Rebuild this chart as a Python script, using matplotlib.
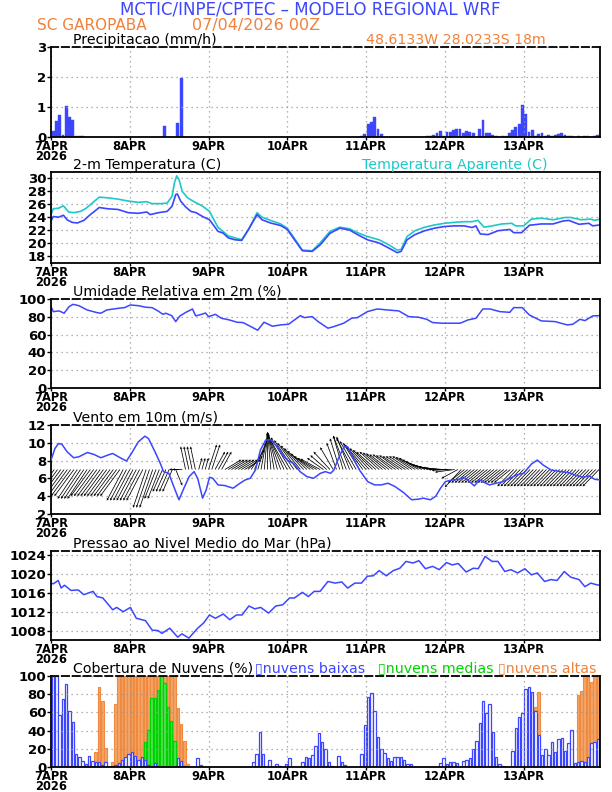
import numpy as np
import matplotlib
matplotlib.use('Agg')
import matplotlib.pyplot as plt

# time axis: hours after 07/04/2026 00Z
day_ticks = [0, 24, 48, 72, 96, 120, 144]
day_labels = ['7APR\n2026', '8APR', '9APR', '10APR', '11APR', '12APR', '13APR']

# precipitation (mm/h), bar index -> value
precip_k = [0, 1, 2, 3, 4, 5, 6, 7, 8, 9, 34, 38, 39, 62,
            94, 95, 96, 97, 98, 99, 100,
            114, 115, 116, 117, 118, 119, 120, 121, 122, 123, 124, 125, 126, 127, 128,
            130, 131, 132, 133, 134, 135, 137, 138, 139, 140, 141, 142, 143, 144, 145,
            146, 147, 148, 149, 150, 151, 152, 153, 154, 155, 156, 157, 158, 160, 162,
            163, 165, 166]
precip_mm = [0.19, 0.53, 0.72, 0.08, 1.02, 0.66, 0.56, 0.05, 0.03, 0.05, 0.36, 0.46, 1.97, 0.01,
             0.03, 0.10, 0.42, 0.50, 0.66, 0.28, 0.10,
             0.05, 0.05, 0.08, 0.15, 0.20, 0.02, 0.18, 0.18, 0.25, 0.28, 0.28, 0.12, 0.19, 0.18, 0.14,
             0.28, 0.58, 0.12, 0.15, 0.08, 0.05, 0.05, 0.03, 0.12, 0.22, 0.35, 0.42, 1.08, 0.78, 0.18,
             0.25, 0.05, 0.10, 0.15, 0.05, 0.08, 0.03, 0.08, 0.10, 0.15, 0.08, 0.05, 0.05, 0.03, 0.04,
             0.04, 0.03, 0.08]

# 2 m temperature
t_hours = [0, 0.7, 2.3, 3.8, 4.9, 6.4, 8, 10, 12, 14.7, 17.3, 20.4, 23.5, 26.6, 29.2, 30.2,
           32.8, 35.4, 36.9, 38, 38.5, 39.5, 41, 42.6, 44.2, 46.2, 48.3, 50.9, 52.4, 54, 56,
           58.1, 60.2, 62.8, 64.3, 66.9, 70, 72, 74.2, 76.6, 79.6, 82, 85, 88, 91, 93.4, 96.4,
           100, 103, 105.5, 106.7, 108.5, 110.9, 113.9, 116.9, 119.9, 122.9, 125.9, 128.3,
           129.5, 130.8, 133.2, 136.2, 139.8, 141, 143.4, 145.8, 149.4, 153, 156, 157.8, 160.9,
           163.9, 165.1, 167.2]
t_vals = [23.4, 24.1, 24.0, 24.3, 23.6, 23.2, 23.1, 23.5, 24.4, 25.5, 25.3, 25.2, 24.7, 24.6,
          24.8, 24.4, 24.7, 24.9, 25.7, 27.5, 27.6, 26.5, 25.6, 24.9, 24.7, 24.1, 23.6, 21.8,
          21.55, 20.8, 20.5, 20.4, 22.1, 24.4, 23.6, 23.1, 22.7, 22.1, 20.5, 18.8, 18.7, 19.7,
          21.5, 22.3, 22.0, 21.3, 20.5, 20.0, 19.2, 18.5, 18.7, 20.5, 21.3, 21.9, 22.3, 22.55,
          22.65, 22.65, 22.4, 22.65, 21.4, 21.3, 21.9, 22.1, 21.6, 21.6, 22.75, 22.95, 22.95,
          23.4, 23.5, 22.9, 23.05, 22.65, 22.8]

# apparent temperature
ta_hours = [0, 0.7, 2.3, 3.8, 5.4, 7, 9, 10.5, 12.6, 14.7, 17.3, 20.4, 23.5, 26.6, 29.2, 30.7,
            33.8, 35.4, 36.9, 37.6, 38.3, 39, 40, 41.6, 43.6, 46.2, 48.3, 50.9, 52.4, 54, 56,
            58.1, 60.2, 62.8, 64.3, 66.9, 70, 72, 74.2, 76.6, 79.6, 82, 85, 88, 91, 93.4, 96.4,
            100, 103, 105.5, 106.7, 108.5, 110.9, 113.9, 116.9, 119.9, 122.9, 125.9, 128.3,
            130.1, 132, 134.4, 137.4, 140.4, 141.6, 144, 146.4, 149.4, 153, 156.6, 158.5, 161.5,
            164.5, 165.7, 167.2]
ta_vals = [24.4, 25.3, 25.4, 25.75, 24.8, 24.7, 24.9, 25.3, 26.2, 27.1, 27.0, 26.8, 26.5, 26.3,
           26.4, 26.1, 26.1, 26.2, 27.25, 29.3, 30.4, 29.85, 28.0, 27.0, 26.4, 25.7, 24.9, 22.4,
           21.8, 21.1, 20.8, 20.5, 22.1, 24.7, 24.0, 23.5, 22.95, 22.3, 20.7, 18.9, 18.8, 20.0,
           21.8, 22.45, 22.2, 21.6, 21.0, 20.5, 19.7, 18.9, 19.0, 21.0, 21.9, 22.45, 22.8, 23.05,
           23.2, 23.3, 23.3, 23.5, 22.45, 22.65, 22.95, 23.05, 22.65, 22.65, 23.7, 23.85, 23.6,
           23.95, 23.95, 23.6, 23.7, 23.5, 23.7]

# relative humidity (%)
rh_hours = [0, 0.7, 2.5, 4, 5.5, 6.7, 8.5, 11, 14, 15.2, 17, 20.6, 22.4, 24.2, 26.6, 29, 30.8,
            32.6, 34.1, 35, 36.8, 38, 39.3, 41.1, 43.1, 44.1, 45.9, 47.1, 48, 50.1, 51.9, 54.3,
            56.7, 58.5, 60.9, 63, 64.9, 67.5, 70, 72.4, 74.2, 76, 77.2, 79.6, 81.4, 84.4, 86.2,
            89.2, 91.6, 93.4, 96.4, 99.4, 102.5, 106, 109, 112, 114.5, 116.3, 119.3, 122.3,
            124.7, 127.1, 129.5, 131.6, 133.8, 136.8, 139.8, 141, 143.6, 145.8, 149.4, 153.6,
            157.3, 159, 161.2, 162.7, 165.1, 167.2]
rh_vals = [91.4, 85.8, 86.6, 84, 91.4, 94, 92.5, 87.7, 84.7, 84, 87.7, 89.6, 90.3, 93.3, 92.5,
           90.7, 90.3, 86.6, 82.8, 84, 81.3, 74.6, 81, 85, 88.8, 81, 82.8, 84.3, 80.2, 82.8, 78.4,
           76.5, 73.9, 73.5, 69, 64.9, 73.9, 69.4, 70.9, 71.6, 76.5, 81.3, 79.1, 80.2, 74.6, 67.2,
           69, 72.8, 78.4, 79.1, 85.8, 88.8, 87.7, 86.6, 80.2, 79.5, 77.2, 73.5, 72.8, 72.8, 72.8,
           76.5, 78.4, 88.8, 88.8, 85.8, 85, 90.3, 90.3, 82, 75.4, 74.6, 70.9, 71.6, 77.2, 75.7,
           81, 81.3]

# 10 m wind speed (m/s)
ws_hours = [0, 1.2, 2.3, 3.3, 4.9, 6.9, 8.5, 11.1, 13.1, 15.2, 17.3, 18.8, 20.9, 23, 24.5,
            26.6, 28.6, 29.7, 31.7, 33.3, 34.3, 35.9, 37.4, 39, 40.5, 42.1, 43.6, 44.7, 46.2,
            47.3, 48.3, 49.3, 50.9, 52.9, 55.5, 57.6, 59.2, 60.7, 62.3, 63.8, 65.4, 66.9, 69,
            71, 72, 73.9, 75.9, 78, 80, 82.1, 83.6, 85.2, 86.2, 87.8, 89.3, 90.4, 91.9, 94, 96.5,
            98.6, 100.7, 102.7, 104.8, 107.4, 109.9, 112, 113.5, 115.6, 117.2, 118.7, 120.2,
            122.3, 124.4, 125.9, 127.5, 129, 130.6, 132.1, 133.6, 135.7, 137.8, 139.8, 141.9,
            144, 146.4, 148.2, 150, 152.4, 155.4, 157.8, 159.6, 162.1, 163.9, 165.7, 167.2]
ws_vals = [8.06, 9.36, 9.92, 9.84, 9.0, 8.32, 8.43, 8.91, 8.69, 8.32, 8.62, 8.8, 8.36, 7.95,
           8.8, 10.1, 10.74, 10.48, 8.99, 7.69, 6.76, 6.57, 5.09, 3.6, 4.9, 6.2, 6.76, 6.01, 3.78,
           4.71, 6.13, 6.01, 5.27, 5.2, 4.9, 5.46, 5.83, 6.01, 6.94, 9.17, 10.29, 10.36, 9.55,
           8.43, 8.06, 7.69, 6.76, 6.2, 6.01, 6.57, 6.76, 6.57, 6.94, 8.43, 9.55, 9.55, 8.43,
           6.94, 5.64, 5.27, 5.27, 5.46, 5.09, 4.42, 3.6, 3.67, 3.78, 3.6, 3.97, 4.9, 5.64, 5.83,
           5.9, 6.13, 5.64, 5.16, 5.83, 5.53, 5.27, 5.46, 5.64, 6.01, 6.39, 6.57, 7.61, 8.06,
           7.5, 6.94, 6.76, 6.65, 6.39, 6.13, 6.28, 5.9, 5.83]

# wind vectors, hourly: tip offset from the baseline (x in hours, y in m/s)
wv_dx = [-5, -6, -6, -6, -6, -6, -6, -6, -6, -6, -6, -6,
         -6, -6, -6, -6, -6, -6, -6, -6, -6, -6, -5, -5,
         -5, -5, -5, -5, -5, -4, -4, -4, -3.5, -3.5, -3, -3,
         -3, -3, 2, -3, -3, -1.5, -1.5, -1.5, -1.5, 1, 1, 1,
         2.5, 2.5, 3, 3, 3, 5, 5, 5, 5, 5, 5, 5,
         4.5, 4, 3.5, 3, 2, 1, 0, -1, -2, -3, -4, -5,
         -6, -6, -6, -6, -6, -6, -6, -6, -6, -6, -6, -5,
         -5, -5, -4, -3, -3, -3, -4, -4, -5, -5, -5, -5.5,
         -6, -6, -6, -6, -6, -6, -6, -6, -6, -6, -6, -6,
         -6, -6, -6, -6, -6, -6, -6, -6, -6, -6, -6, -6,
         -6, -6, -6, -6, -5, -5, -5, -5, -5, -5, -5, -5,
         -5, -5, -5, -5, -5, -5, -5, -5, -5, -5, -5, -5,
         -5, -5, -5, -5, -5, -5, -5, -5, -5, -5, -5, -5,
         -5, -5, -5, -5, -5, -5, -5, -5, -5, -5, -5, -5]
wv_dy = [-2.6, -3.0, -3.0, -3.0, -3.0, -3.0, -3.0, -3.0, -3.3, -3.3, -3.3, -3.3,
         -3.0, -3.0, -3.0, -3.0, -3.0, -3.0, -3.0, -3.0, -3.0, -3.0, -3.5, -3.5,
         -3.5, -3.5, -3.5, -3.5, -3.5, -4.3, -4.3, -4.3, -3.3, -3.3, -2.5, -2.5,
         -2.5, -2.5, -1.8, 0.0, 0.0, 2.6, 2.6, 2.6, 2.6, 1.3, 1.3, 1.3,
         2.8, 2.8, 2.0, 2.0, 2.0, 1.1, 1.1, 1.1, 1.1, 1.1, 1.1, 1.1,
         1.5, 2.2, 3.0, 3.6, 4.0, 4.2, 4.2, 4.2, 4.2, 4.1, 4.0, 4.0,
         3.9, 3.6, 3.3, 3.0, 2.7, 2.4, 2.1, 1.8, 1.5, 1.3, 1.2, 1.3,
         1.6, 2.0, 2.5, 3.0, 3.5, 3.8, 3.8, 3.7, 3.5, 3.2, 3.0, 2.8,
         2.6, 2.4, 2.2, 2.0, 2.0, 1.9, 1.8, 1.7, 1.7, 1.6, 1.6, 1.5,
         1.5, 1.5, 1.5, 1.4, 1.3, 1.1, 0.9, 0.7, 0.5, 0.4, 0.3, 0.2,
         0.1, 0.0, -0.1, -0.3, -1.0, -2.0, -1.5, -1.5, -1.5, -1.5, -1.5, -1.5,
         -1.5, -1.5, -1.5, -1.5, -1.5, -1.5, -1.5, -1.5, -1.5, -1.9, -1.9, -1.9,
         -1.9, -1.9, -1.9, -1.9, -1.9, -1.9, -1.9, -1.9, -1.9, -1.9, -1.9, -1.9,
         -1.9, -1.9, -1.9, -1.9, -1.9, -1.9, -1.9, -1.9, -1.9, -1.9, -1.9, -1.9]

# sea level pressure (hPa)
p_hours = [0, 0.7, 2.2, 3.1, 4.1, 6.1, 8.3, 10, 12.8, 14, 15.8, 18.8, 20, 22, 24.2, 26, 28.8,
           30.8, 32.6, 33.8, 36.2, 38.6, 39.9, 42, 44.7, 46.5, 48.3, 50.1, 52.5, 54.5, 56.5,
           58.2, 60.3, 62.1, 63.9, 66.3, 68.5, 70.6, 72.7, 74.2, 76.6, 78.4, 80.2, 82, 84.4,
           86.6, 88.6, 90.4, 92.6, 94.6, 96.4, 98.2, 100, 102.2, 104.3, 106.3, 108.2, 110.3,
           112.1, 114.1, 116.3, 118.3, 120.5, 122.3, 124.1, 126.5, 128.7, 130.2, 132.3, 134.4,
           136.2, 138.3, 140.1, 142.2, 144.4, 146.4, 148.2, 150.4, 152.4, 154.2, 156.4, 158.4,
           160.9, 162.7, 164.5, 166.3, 167.2]
p_vals = [1018.05, 1017.9, 1018.6, 1017.0, 1017.6, 1016.5, 1016.6, 1015.6, 1016.3, 1015.2,
          1014.9, 1012.4, 1012.9, 1012.0, 1012.9, 1010.6, 1010.1, 1008.1, 1008.0, 1007.4,
          1008.5, 1006.6, 1007.3, 1006.4, 1008.5, 1009.6, 1011.3, 1010.6, 1011.5, 1010.3,
          1011.3, 1011.3, 1013.2, 1012.6, 1012.9, 1011.7, 1013.2, 1013.45, 1014.9, 1014.9,
          1016.1, 1015.2, 1016.3, 1016.3, 1018.4, 1018.05, 1018.3, 1017.0, 1018.05, 1018.05,
          1019.5, 1019.6, 1020.7, 1019.6, 1020.7, 1021.2, 1022.65, 1022.3, 1022.8, 1021.1,
          1021.6, 1020.9, 1022.4, 1021.9, 1022.2, 1020.4, 1021.2, 1021.1, 1023.7, 1022.65,
          1022.65, 1020.5, 1020.9, 1020.2, 1021.1, 1019.8, 1020.2, 1018.4, 1018.8, 1018.6,
          1020.5, 1019.3, 1018.8, 1017.3, 1018.05, 1017.7, 1017.6]

# cloud cover (%), hourly
cl_low = [100, 100, 57, 75, 91, 61, 49, 14, 11, 7, 3, 12.5,
          7, 5, 6, 2, 5, 0, 1.5, 2, 4.4, 8, 11, 14,
          17, 12.5, 8, 11, 8, 2, 0, 4.4, 1, 0, 0, 0,
          0, 0, 10, 7, 1.5, 0, 0, 0, 10, 2, 0, 0,
          0, 0, 0, 0, 0, 0, 0, 0, 0, 0, 0, 0,
          0, 6, 14, 38, 14, 0, 8, 0, 3, 1.5, 0, 3,
          10, 0, 0, 0, 5, 11, 10, 13, 23, 37, 27, 20,
          5, 1.5, 0, 12.5, 5, 2, 0, 0, 0, 0, 14, 46,
          77, 81, 62, 33, 20, 15.5, 10, 7, 11, 11.4, 11.4, 8,
          3, 3, 0, 0, 0, 0, 0, 0, 0, 0, 4.4, 10,
          3, 5, 5, 4.4, 0, 7, 8, 10, 20, 29, 48, 72,
          59, 69, 38, 11, 3, 1.5, 0, 0, 18, 43, 55, 59,
          86, 88, 82, 62, 35, 13, 20, 13, 27, 17, 31, 32,
          18, 26, 41, 4, 6, 7, 6, 11, 26, 27, 31, 0]
cl_mid = [0, 0, 3, 58, 22, 3, 0, 0, 0, 0, 0, 0,
          0, 0, 0, 0, 0, 0, 0, 0, 0, 0, 0, 0,
          0, 0, 0, 0, 27, 41, 76, 76, 85, 100, 92, 66,
          51, 29, 0, 0, 0, 0, 0, 0, 0, 0, 0, 0,
          0, 0, 0, 0, 0, 0, 0, 0, 0, 0, 0, 0,
          0, 0, 0, 0, 0, 0, 0, 0, 0, 0, 0, 0,
          0, 0, 0, 0, 0, 0, 0, 0, 0, 0, 0, 0,
          0, 0, 0, 0, 0, 0, 0, 0, 0, 0, 0, 0,
          0, 0, 0, 0, 0, 0, 0, 0, 0, 0, 0, 0,
          0, 0, 0, 0, 0, 0, 0, 0, 0, 0, 0, 0,
          0, 0, 0, 0, 0, 0, 0, 0, 0, 0, 0, 0,
          0, 0, 0, 0, 0, 0, 0, 0, 0, 3, 10, 0,
          0, 0, 0, 0, 0, 0, 0, 0, 0, 0, 0, 0,
          0, 0, 0, 0, 0, 0, 0, 0, 0, 0, 0, 0]
cl_high = [25, 48, 57, 58, 62, 40, 31, 5, 0, 0, 0, 0,
           0, 17, 88, 73, 21, 0, 5, 69, 100, 100, 100, 100,
           100, 100, 100, 100, 100, 100, 100, 100, 100, 100, 100, 100,
           100, 100, 65, 47, 29, 3, 0, 0, 0, 0, 0, 0,
           0, 0, 0, 0, 0, 0, 0, 0, 0, 0, 0, 0,
           0, 0, 0, 0, 0, 0, 0, 0, 0, 0, 0, 0,
           0, 0, 0, 0, 0, 0, 0, 0, 0, 0, 0, 0,
           0, 0, 0, 0, 0, 0, 0, 0, 0, 0, 0, 0,
           0, 0, 0, 0, 0, 0, 0, 0, 0, 0, 0, 0,
           0, 0, 0, 0, 0, 0, 0, 0, 0, 0, 0, 0,
           0, 0, 0, 0, 0, 0, 0, 0, 0, 0, 0, 0,
           0, 0, 0, 0, 0, 0, 0, 0, 0, 0, 0, 0,
           0, 0, 0, 66, 82, 0, 17, 9, 0, 0, 0, 0,
           0, 0, 22, 0, 79, 84, 100, 100, 93, 100, 100, 0]

BLUE = '#3c46ff'
ORANGE = '#f0823c'
CYAN = '#1ec8c8'
GREEN = '#00d200'
TICKFONT = ['Liberation Sans Narrow', 'DejaVu Sans']

fig = plt.figure(figsize=(6.12, 7.92), dpi=100)
L, W = 51 / 612, 549 / 612


def yfont(ax):
    for lab in ax.get_yticklabels():
        lab.set_family(TICKFONT)
        lab.set_fontweight('bold')
        lab.set_fontsize(9.5)


def panel(top, bottom):
    ax = fig.add_axes([L, 1 - bottom / 792, W, (bottom - top) / 792])
    ax.set_xlim(0, 167.3)
    ax.set_xticks(day_ticks)
    ax.set_xticklabels(day_labels, family=TICKFONT, fontweight='bold', fontsize=8.3,
                       linespacing=0.7)
    ax.grid(True, color='#999999', linestyle=(0, (1, 3)), linewidth=0.9)
    ax.tick_params(axis='y', length=3, width=1, pad=0.5)
    ax.tick_params(axis='x', length=2, width=1, pad=0)
    for s in ax.spines.values():
        s.set_linewidth(1.3)
    ax.spines['top'].set_linestyle((0, (4, 2)))
    return ax


def ptitle(ax, txt, x=0.04, color='black'):
    ax.text(x, 1.005, txt, transform=ax.transAxes, fontsize=10.2, color=color,
            ha='left', va='bottom')


fig.text(310 / 612, 1 - 1 / 792, 'MCTIC/INPE/CPTEC \u2013 MODELO REGIONAL WRF', color=BLUE,
         fontsize=12, ha='center', va='top')
fig.text(37 / 612, 1 - 18 / 792, 'SC GAROPABA', color=ORANGE, fontsize=11, ha='left', va='top')
fig.text(192 / 612, 1 - 18 / 792, '07/04/2026 00Z', color=ORANGE, fontsize=11.5, ha='left', va='top')

# precipitation
ax1 = panel(47, 137)
ax1.bar(np.array(precip_k) + 0.65, precip_mm, width=0.85, color=BLUE, edgecolor=BLUE, linewidth=0.3)
ax1.set_ylim(0, 3)
ax1.set_yticks([0, 1, 2, 3])
yfont(ax1)
ptitle(ax1, 'Precipitacao (mm/h)')
ptitle(ax1, '48.6133W 28.0233S 18m', x=0.574, color=ORANGE)

# temperature
ax2 = panel(172, 263)
ax2.plot(ta_hours, ta_vals, color=CYAN, linewidth=1.2)
ax2.plot(t_hours, t_vals, color=BLUE, linewidth=1.2)
ax2.set_ylim(16.9, 31.0)
ax2.set_yticks(range(18, 31, 2))
yfont(ax2)
ax2.spines['top'].set_linestyle('-')
ptitle(ax2, '2-m Temperatura (C)')
ptitle(ax2, 'Temperatura Aparente (C)', x=0.566, color=CYAN)

# relative humidity
ax3 = panel(299, 388)
ax3.plot(rh_hours, rh_vals, color=BLUE, linewidth=1.1)
ax3.set_ylim(0, 100)
ax3.set_yticks(range(0, 101, 20))
yfont(ax3)
ptitle(ax3, 'Umidade Relativa em 2m (%)')

# wind
ax4 = panel(425, 514)
hrs = np.arange(len(wv_dx))
ax4.quiver(hrs, np.full(len(hrs), 7.0), wv_dx, wv_dy, angles='xy', scale_units='xy', scale=1,
           color='black', width=0.0014, headwidth=3.5, headlength=3.5, headaxislength=3, zorder=3)
ax4.plot(ws_hours, ws_vals, color=BLUE, linewidth=1.1, zorder=4)
ax4.set_ylim(2, 12)
ax4.set_yticks(range(2, 13, 2))
yfont(ax4)
ptitle(ax4, 'Vento em 10m (m/s)')

# pressure
ax5 = panel(551, 640)
ax5.plot(p_hours, p_vals, color=BLUE, linewidth=1.1)
ax5.set_ylim(1006.0, 1024.85)
ax5.set_yticks(range(1008, 1025, 4))
yfont(ax5)
ptitle(ax5, 'Pressao ao Nivel Medio do Mar (hPa)')

# cloud cover
ax6 = panel(676, 767)
ck = np.arange(len(cl_low)) + 0.65
ax6.bar(ck, cl_high, width=0.8, color='#f5a564', edgecolor='#f08a40', linewidth=0.8)
ax6.bar(ck, cl_mid, width=0.75, color='#55e055', edgecolor=GREEN, linewidth=0.9)
ax6.bar(ck, cl_low, width=0.75, color='white', edgecolor=BLUE, linewidth=0.9)
ax6.set_ylim(0, 100)
ax6.set_yticks(range(0, 101, 20))
yfont(ax6)
ptitle(ax6, 'Cobertura de Nuvens (%)')
ptitle(ax6, '\u25afnuvens baixas', x=0.372, color=BLUE)
ptitle(ax6, '\u25afnuvens medias', x=0.595, color=GREEN)
ptitle(ax6, '\u25afnuvens altas', x=0.814, color=ORANGE)

fig.savefig('out.png', dpi=100)
